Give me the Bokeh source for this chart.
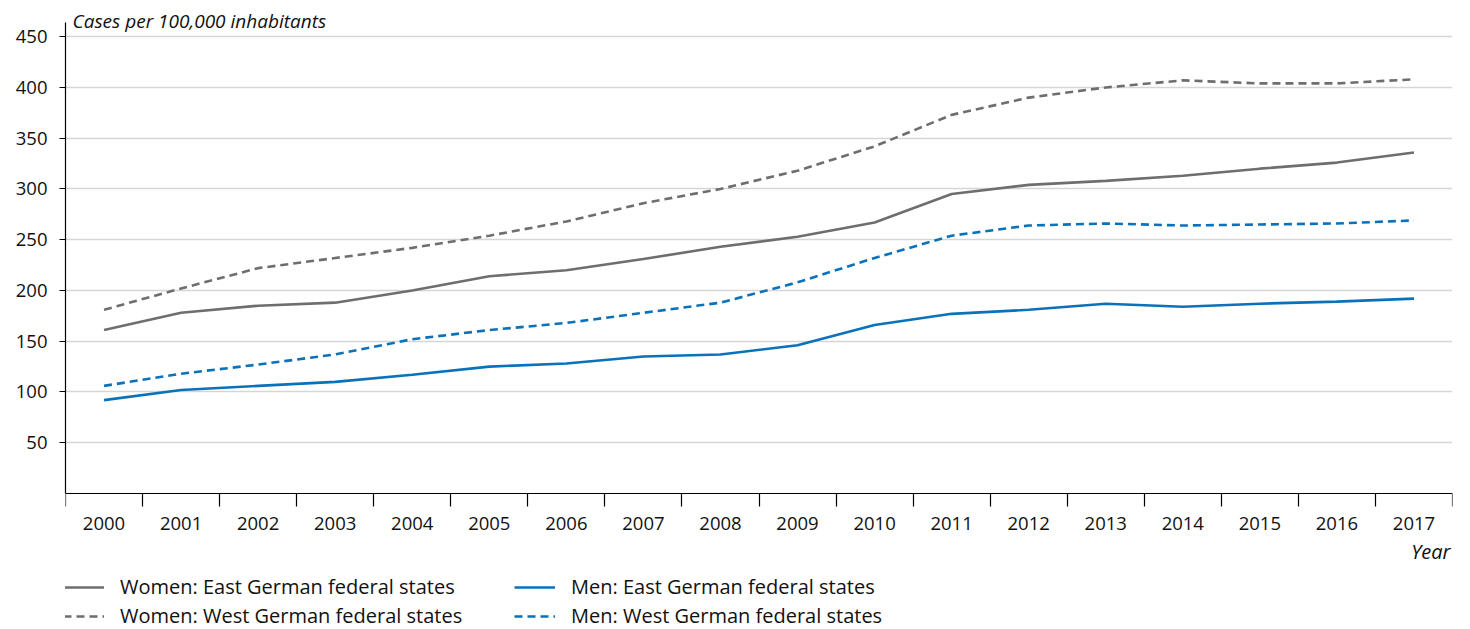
from bokeh.plotting import figure
from bokeh.models import (FixedTicker, Range1d, Legend, LegendItem, Label,
                          CustomJSTickFormatter)
from bokeh.embed import file_html
from bokeh.resources import INLINE

years = list(range(2000, 2018))
women_east = [161, 178, 185, 188, 200, 214, 220, 231, 243, 253, 267, 295, 304, 308, 313, 320, 326, 336]
women_west = [181, 202, 222, 232, 242, 254, 268, 286, 300, 318, 342, 373, 390, 400, 407, 404, 404, 408]
men_east = [92, 102, 106, 110, 117, 125, 128, 135, 137, 146, 166, 177, 181, 187, 184, 187, 189, 192]
men_west = [106, 118, 127, 137, 152, 161, 168, 178, 188, 208, 232, 254, 264, 266, 264, 265, 266, 269]
y_ticks = [50, 100, 150, 200, 250, 300, 350, 400, 450]

GRAY = "#6e6e6e"
BLUE = "#0a72bb"
FONT = "Open Sans"

W, H = 1470, 629
p = figure(width=W, height=H, output_backend="svg", toolbar_location=None,
           x_range=Range1d(1999.5, 2017.5), y_range=Range1d(-133.98, 485.67),
           min_border_left=65, min_border_right=18, min_border_top=0, min_border_bottom=0)
p.outline_line_color = None
p.background_fill_color = "white"

# x axis drawn at y = 0
xa = p.xaxis[0]
xa.fixed_location = 0
xa.ticker = FixedTicker(ticks=years, minor_ticks=[y - 0.5 for y in years] + [2017.5])
xa.formatter = CustomJSTickFormatter(code="return String(tick)")
xa.major_tick_out = 0
xa.major_tick_in = 0
xa.minor_tick_out = 13
xa.minor_tick_in = 0
xa.minor_tick_line_color = "black"
xa.minor_tick_line_width = 1.2
xa.axis_line_color = "black"
xa.axis_line_width = 1.2
xa.major_label_text_font = FONT
xa.major_label_text_font_size = "18.5px"
xa.major_label_text_color = "#111111"
xa.major_label_standoff = 11

ya = p.yaxis[0]
ya.bounds = (0, 464)
ya.ticker = FixedTicker(ticks=y_ticks)
ya.major_tick_out = 6
ya.major_tick_in = 0
ya.minor_tick_out = 0
ya.minor_tick_in = 0
ya.major_tick_line_color = "black"
ya.axis_line_color = "black"
ya.axis_line_width = 1.2
ya.major_label_text_font = FONT
ya.major_label_text_font_size = "18.5px"
ya.major_label_text_color = "#111111"
ya.major_label_standoff = 12

p.xgrid.grid_line_color = None
p.ygrid.ticker = FixedTicker(ticks=y_ticks)
p.ygrid.grid_line_color = "#d6d6d6"
p.ygrid.grid_line_width = 1.3

r_we = p.line(years, women_east, line_color=GRAY, line_width=2.6)
r_ww = p.line(years, women_west, line_color=GRAY, line_width=2.6, line_dash="8 5")
r_me = p.line(years, men_east, line_color=BLUE, line_width=2.6)
r_mw = p.line(years, men_west, line_color=BLUE, line_width=2.6, line_dash="8 5")

legend = Legend(items=[
    LegendItem(label="Women: East German federal states", renderers=[r_we]),
    LegendItem(label="Women: West German federal states", renderers=[r_ww]),
    LegendItem(label="Men: East German federal states", renderers=[r_me]),
    LegendItem(label="Men: West German federal states", renderers=[r_mw]),
], orientation="vertical", ncols=2, location=(-2, 0),
    glyph_width=41, glyph_height=20, label_height=20, label_width=392,
    label_standoff=16, spacing=2, padding=0, margin=0,
    border_line_color=None, background_fill_alpha=0,
    label_text_font=FONT, label_text_font_size="20px", label_text_color="#111111")
p.add_layout(legend, "center")

p.add_layout(Label(x=7, y=H - 20, x_units="screen", y_units="screen",
                   text="Cases per 100,000 inhabitants", text_font=FONT,
                   text_font_style="italic", text_font_size="19px",
                   text_color="#111111", text_baseline="middle", text_align="left"))
p.add_layout(Label(x=1385, y=H - 551, x_units="screen", y_units="screen",
                   text="Year", text_font=FONT,
                   text_font_style="italic", text_font_size="20px",
                   text_color="#111111", text_baseline="middle", text_align="right"))

open("out.html", "w").write(file_html(p, INLINE))
